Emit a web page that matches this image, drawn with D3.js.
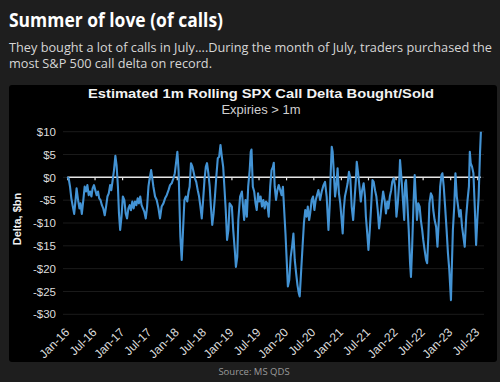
<!DOCTYPE html>
<html>
<head>
<meta charset="utf-8">
<script src="https://cdn.jsdelivr.net/npm/d3@7"></script>
<style>
  html, body { margin: 0; padding: 0; background: #1e1e1e; }
  svg { display: block; }
</style>
</head>
<body>
<svg width="500" height="382"></svg>
<script>
// months after 1 Jan 2016, and estimated rolling call delta ($bn)
const months = [
  0.0, 0.3, 0.6, 0.9, 1.2, 1.5, 1.8, 2.05, 2.35, 2.65, 2.9, 3.2, 3.5, 3.8, 4.1, 4.4, 4.7, 5.0, 5.3, 5.55,
  5.85, 6.15, 6.45, 6.75, 7.0, 7.3, 7.6, 7.9, 8.2, 8.5, 8.8, 9.1, 9.4, 9.65, 9.95, 10.25, 10.55, 10.8, 11.1, 11.35,
  11.6, 11.9, 12.2, 12.5, 12.8, 13.1, 13.4, 13.7, 13.95, 14.25, 14.55, 14.85, 15.15, 15.45, 15.7, 16.0, 16.3, 16.6, 16.9, 17.2,
  17.5, 17.8, 18.0, 18.4, 18.9, 19.25, 19.6, 20.0, 20.35, 20.7, 21.1, 21.45, 21.8, 22.2, 22.55, 22.9, 23.3, 23.6, 24.15, 24.4,
  24.6, 24.8, 25.1, 25.4, 25.7, 26.0, 26.3, 26.6, 26.85, 27.15, 27.45, 27.75, 28.0, 28.3, 28.6, 28.9, 29.2, 29.5, 29.8, 30.1,
  30.4, 30.65, 30.95, 31.25, 31.5, 31.8, 32.1, 32.4, 32.7, 33.0, 33.3, 33.6, 33.9, 34.2, 34.45, 34.75, 35.05, 35.35, 35.6, 36.1,
  36.4, 36.8, 37.0, 37.3, 37.5, 37.9, 38.3, 38.5, 38.8, 39.1, 39.4, 39.7, 40.0, 40.25, 40.4, 40.7, 41.0, 41.3, 41.55, 41.85,
  42.1, 42.4, 42.7, 43.0, 43.3, 43.6, 43.9, 44.2, 44.5, 44.8, 45.1, 45.3, 45.5, 45.8, 46.1, 46.4, 46.7, 47.0, 47.3, 47.55,
  47.85, 48.15, 48.4, 48.7, 49.0, 49.3, 49.6, 49.9, 50.2, 50.5, 50.8, 51.0, 51.3, 51.6, 51.9, 52.2, 52.5, 52.75, 53.05, 53.3,
  53.6, 53.9, 54.2, 54.5, 55.1, 55.45, 55.8, 56.2, 56.55, 56.9, 57.3, 57.6, 57.8, 58.0, 58.2, 58.45, 58.75, 59.0, 59.3, 59.6,
  59.9, 60.2, 60.4, 60.65, 60.9, 61.2, 61.5, 61.8, 62.1, 62.4, 62.7, 63.0, 63.3, 63.5, 63.8, 64.1, 64.4, 64.7, 65.0, 65.3,
  65.5, 65.8, 66.05, 66.35, 66.65, 66.95, 67.2, 67.5, 67.8, 68.1, 68.4, 68.7, 69.0, 69.3, 69.6, 69.9, 70.2, 70.45, 70.75, 71.05,
  71.3, 71.6, 71.9, 72.2, 72.5, 72.8, 73.0, 73.4, 73.9, 74.1, 74.3, 74.6, 74.9, 75.2, 75.4, 75.65, 75.95, 76.2, 76.4, 76.7,
  77.0, 77.3, 77.55, 77.85, 78.1, 78.4, 78.7, 78.95, 79.2, 79.45, 79.75, 80.05, 80.3, 80.6, 80.9, 81.2, 81.5, 81.8, 82.1, 82.3,
  82.6, 82.9, 83.2, 83.5, 83.8, 84.0, 84.15, 84.35, 84.6, 84.9, 85.15, 85.45, 85.75, 86.0, 86.3, 86.6, 86.9, 87.2, 87.5, 87.8,
  88.1, 88.3, 88.5, 88.8, 89.1, 89.4, 89.7, 89.95, 90.25, 90.55, 90.75
];
const delta = [
  0.1, -0.2, -2.0, -4.6, -6.4, -8.0, -5.0, -2.4, -5.0, -6.8, -5.7, -8.0, -5.0, -2.0, -3.1, -1.7, -3.9, -3.1, -4.2, -2.4,
  -1.7, -2.8, -3.9, -3.1, -4.6, -5.0, -6.1, -6.8, -8.3, -6.4, -4.2, -3.5, -1.7, -2.8, -0.6, 1.6, 4.7, 2.7, -2.0, -7.9,
  -11.5, -8.6, -4.2, -5.0, -7.9, -9.0, -6.8, -6.1, -7.2, -5.3, -6.8, -5.3, -6.1, -4.6, -5.7, -4.2, -6.1, -6.8, -7.5, -9.0,
  -6.4, -2.0, -0.6, 1.6, -2.05, -4.2, -4.95, -6.8, -9.0, -6.4, -5.7, -4.6, -3.9, -2.8, -1.7, -1.3, -0.2, 0.9, 5.6, 1.6,
  -5.7, -13, -18.1, -11.5, -5.0, -4.2, -5.3, -3.1, -2.05, 3.1, 2.3, 0.9, -0.2, -1.0, -2.8, -4.2, -6.4, -9.0, -5.0, -0.6,
  2.3, 3.1, 0.9, -2.05, -6.4, -10.4, -7.9, -4.2, 0.1, 4.2, 4.5, 7.1, 4.5, 2.3, -2.05, -7.15, -13.7, -11.5, -5.7, -6.4,
  -11.5, -16.6, -19.6, -17.4, -9.35, -4.2, -3.1, -5.7, -9.35, -4.95, -8.6, -2.05, 1.6, 5.6, 6.1, -2.05, -3.1, -5.7, -7.15, -3.5,
  -5.3, -4.2, -6.4, -4.95, -6.8, -5.3, -5.7, -8.6, -2.05, 1.6, 2.3, 3.2, -2.05, -4.95, -2.8, -1.7, -2.8, -3.9, -2.05, -6.4,
  -12.3, -18.8, -23.9, -22.5, -17.4, -15.2, -12.3, -18.1, -21.0, -23.6, -25.4, -26.1, -20.3, -15.2, -10.1, -7.15, -8.6, -6.4, -9.35, -7.9,
  -4.95, -4.2, -7.15, -4.95, -2.8, -4.95, -3.1, -1.7, -1.0, -4.2, -11.5, -5.7, 0.9, 6.7, 5.6, 1.6, -4.2, -2.05, 2.0, -3.5,
  -5.7, -9.35, -12.3, -7.15, -4.2, -2.8, -1.3, 1.2, -0.2, -6.4, -9.35, -4.95, -0.6, 3.4, 0.9, -2.05, -5.3, -2.8, -1.3, -4.2,
  -8.6, -12.3, -15.9, -11.5, -6.4, -0.6, -1.0, -2.8, -4.2, -7.15, -11.2, -8.6, -5.7, -3.1, -4.95, -7.9, -5.3, -6.8, -4.2, -2.8,
  -1.0, -0.2, -2.05, -8.6, -5.7, -1.3, 3.8, -1.3, -9.35, -1.3, -0.6, -5.7, -11.5, -18.8, -21.8, -15.2, -5.7, 0.5, -3.5, -9.35,
  -5.7, -6.4, -9.35, -11.5, -13.7, -15.9, -18.1, -18.8, -13, -5.7, -3.5, -4.2, -7.15, -9.35, -10.8, -15.2, -9.35, -2.05, 0.5, 0.9,
  -2.05, -6.4, -11.5, -16.6, -20.3, -23.9, -26.9, -19.6, -11.5, -6.4, 0.9, -4.2, -6.4, -8.6, -7.15, -10.8, -13, -15.2, -8.6, -4.95,
  -2.05, 5.6, 3.1, 2.3, 0.9, -6.4, -14.8, -9.35, -4.2, 5.25, 10
];
const yTicks = [-30, -25, -20, -15, -10, -5, 0, 5, 10];

const start = new Date(2016, 0, 1);
const data = months.map((m, i) => ({
  date: d3.timeDay.offset(start, Math.round(m * 30.44)),
  value: delta[i]
}));

const svg = d3.select("svg");
const headFont = "'Open Sans', sans-serif";
const chartFont = "'Liberation Sans', Arial, sans-serif";

svg.append("rect").attr("width", 500).attr("height", 382).attr("fill", "#1e1e1e");

svg.append("text")
  .attr("x", 9).attr("y", 27)
  .attr("font-family", headFont).attr("font-weight", 700).attr("font-size", 19)
  .attr("fill", "#ffffff")
  .attr("textLength", 214).attr("lengthAdjust", "spacingAndGlyphs")
  .text("Summer of love (of calls)");

const sub = [
  "They bought a lot of calls in July....During the month of July, traders purchased the",
  "most S&P 500 call delta on record."
];
const subLen = [483, 203];
svg.selectAll(".sub")
  .data(sub)
  .enter()
  .append("text")
  .attr("class", "sub")
  .attr("x", 9)
  .attr("y", (d, i) => 52 + i * 16)
  .attr("font-family", headFont).attr("font-size", 12.3)
  .attr("fill", "#d6d6d6")
  .attr("textLength", (d, i) => subLen[i]).attr("lengthAdjust", "spacingAndGlyphs")
  .text(d => d);

// black chart panel
svg.append("rect")
  .attr("x", 9).attr("y", 85).attr("width", 488).attr("height", 277)
  .attr("rx", 3).attr("fill", "#000");

const x = d3.scaleTime()
  .domain([new Date(2016, 0, 1), new Date(2023, 6, 1)])
  .range([67.3, 477.3]);
const y = d3.scaleLinear().domain([-30, 10]).range([314.3, 131.7]);

svg.append("text")
  .attr("x", 261).attr("y", 98).attr("text-anchor", "middle")
  .attr("font-family", chartFont).attr("font-weight", 700).attr("font-size", 13.5)
  .attr("fill", "#f2f2f2")
  .attr("textLength", 346).attr("lengthAdjust", "spacingAndGlyphs")
  .text("Estimated 1m Rolling SPX Call Delta Bought/Sold");
svg.append("text")
  .attr("x", 261).attr("y", 114).attr("text-anchor", "middle")
  .attr("font-family", chartFont).attr("font-size", 13)
  .attr("fill", "#cfcfcf")
  .text("Expiries > 1m");

// faint gridlines
svg.selectAll(".grid")
  .data(yTicks)
  .enter()
  .append("line")
  .attr("class", "grid")
  .attr("x1", 63).attr("x2", 484)
  .attr("y1", d => y(d)).attr("y2", d => y(d))
  .attr("stroke", "#1b1b1b").attr("stroke-width", 1);

// y axis labels
const yAxis = svg.append("g")
  .attr("transform", "translate(60,0)")
  .call(d3.axisLeft(y).tickValues(yTicks).tickSize(0).tickPadding(4)
    .tickFormat(d => (d < 0 ? "-$" : "$") + Math.abs(d)));
yAxis.select(".domain").remove();
yAxis.selectAll("text")
  .attr("font-family", chartFont).attr("font-size", 11.5).attr("fill", "#dcdcdc");

svg.append("text")
  .attr("transform", "translate(21,219) rotate(-90)")
  .attr("text-anchor", "middle")
  .attr("font-family", chartFont).attr("font-weight", 700).attr("font-size", 11)
  .attr("fill", "#f2f2f2")
  .text("Delta, $bn");

// zero line with half-year tick marks
const lastDate = data[data.length - 1].date;
svg.append("line")
  .attr("x1", x(start)).attr("x2", x(lastDate))
  .attr("y1", y(0)).attr("y2", y(0))
  .attr("stroke", "#e6e6e6").attr("stroke-width", 1.5);
const zeroAxis = svg.append("g")
  .attr("transform", `translate(0,${y(0)})`)
  .call(d3.axisBottom(x).ticks(d3.timeMonth.every(6)).tickSize(3).tickFormat(""));
zeroAxis.select(".domain").remove();
zeroAxis.selectAll("line").attr("stroke", "#e6e6e6").attr("stroke-width", 1.2);

// x labels
const xAxis = svg.append("g")
  .call(d3.axisBottom(x).ticks(d3.timeMonth.every(6)).tickSize(0)
    .tickFormat(d3.timeFormat("%b-%y")));
xAxis.select(".domain").remove();
xAxis.selectAll(".tick").attr("transform", d => `translate(${x(d) + 3},333)`);
xAxis.selectAll("text")
  .attr("x", 0).attr("y", 0).attr("dy", 0)
  .attr("transform", "rotate(-45)")
  .attr("text-anchor", "end")
  .attr("font-family", chartFont).attr("font-size", 12).attr("fill", "#dcdcdc");

// series
const line = d3.line()
  .x(d => x(d.date))
  .y(d => y(d.value));
svg.append("path")
  .datum(data)
  .attr("d", line)
  .attr("fill", "none")
  .attr("stroke", "#4393d4")
  .attr("stroke-width", 2.1)
  .attr("stroke-linejoin", "round");

svg.append("text")
  .attr("x", 254).attr("y", 375).attr("text-anchor", "middle")
  .attr("font-family", headFont).attr("font-size", 9.5)
  .attr("fill", "#9a9a9a")
  .text("Source: MS QDS");
</script>
</body>
</html>
